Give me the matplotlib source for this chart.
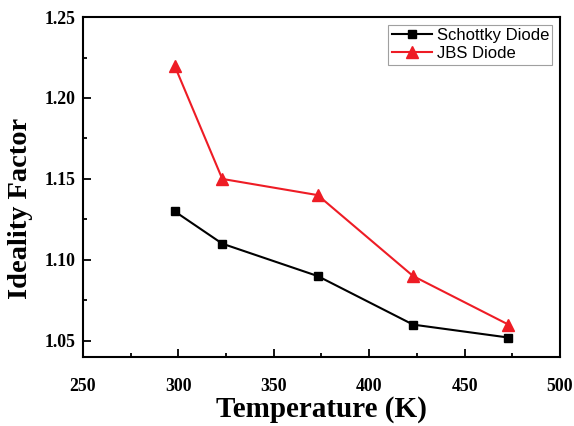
import matplotlib.pyplot as plt
from matplotlib.ticker import MultipleLocator

temp = [298, 323, 373, 423, 473]
schottky = [1.13, 1.11, 1.09, 1.06, 1.052]
jbs = [1.22, 1.15, 1.14, 1.09, 1.06]

fig = plt.figure(figsize=(5.74, 4.26), dpi=100)
ax = fig.add_axes([0.1446, 0.162, 0.831, 0.798])

ax.plot(temp, schottky, color='black', marker='s', markersize=5.5, lw=1.5, label='Schottky Diode')
ax.plot(temp, jbs, color='#ee1c25', marker='^', markersize=9, lw=1.5, label='JBS Diode')

ax.set_xlim(250, 500)
ax.set_ylim(1.04, 1.25)
ax.xaxis.set_major_locator(MultipleLocator(50))
ax.xaxis.set_minor_locator(MultipleLocator(25))
ax.yaxis.set_major_locator(MultipleLocator(0.05))
ax.yaxis.set_minor_locator(MultipleLocator(0.025))
ax.yaxis.set_major_formatter(plt.FormatStrFormatter('%.2f'))
ax.tick_params(which='both', direction='in', width=1.3)
ax.tick_params(which='major', length=6)
ax.tick_params(which='minor', length=3)
for lab in ax.get_xticklabels() + ax.get_yticklabels():
    lab.set_fontfamily('Liberation Serif')
    lab.set_fontweight('bold')
    lab.set_fontsize(12.8)
ax.tick_params(axis='x', pad=15)
ax.tick_params(axis='y', pad=5)
for s in ax.spines.values():
    s.set_linewidth(1.5)

ax.set_xlabel('Temperature (K)', fontfamily='Liberation Serif', fontweight='bold', fontsize=21)
ax.set_ylabel('Ideality Factor', fontfamily='Liberation Serif', fontweight='bold', fontsize=20.5)
ax.xaxis.set_label_coords(0.5, -0.115)
ax.yaxis.set_label_coords(-0.105, 0.438)

leg = ax.legend(loc='upper right', prop={'family': 'Liberation Sans', 'size': 12},
                frameon=True, fancybox=False, edgecolor='#888888', handlelength=2.4,
                borderpad=0.2, labelspacing=0.2, handletextpad=0.3, borderaxespad=0.45)
leg.get_frame().set_linewidth(0.8)

fig.savefig('out.png', dpi=100)
